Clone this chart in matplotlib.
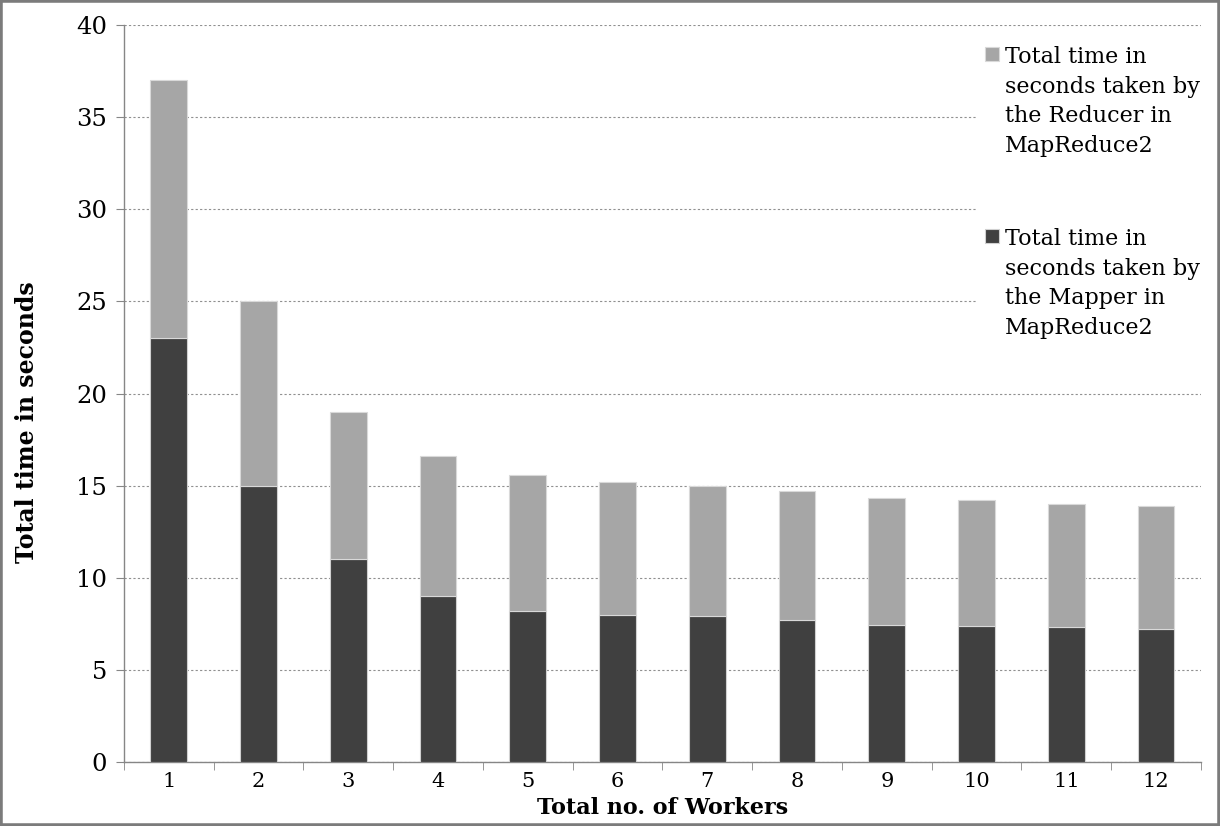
import numpy as np
import matplotlib.pyplot as plt
from matplotlib.patches import Rectangle
from matplotlib.legend_handler import HandlerPatch

plt.rcParams['font.family'] = ['DejaVu Serif']

workers = [1, 2, 3, 4, 5, 6, 7, 8, 9, 10, 11, 12]
# seconds
mapper = [23, 15, 11, 9, 8.2, 8, 7.9, 7.7, 7.45, 7.4, 7.3, 7.2]
reducer = [14, 10, 8, 7.6, 7.4, 7.2, 7.1, 7.0, 6.9, 6.8, 6.7, 6.7]

mapper_label = 'Total time in\nseconds taken by\nthe Mapper in\nMapReduce2'
reducer_label = 'Total time in\nseconds taken by\nthe Reducer in\nMapReduce2'

dark = '#404040'
light = '#a6a6a6'
axis_gray = '#868686'

fig = plt.figure(figsize=(12.2, 8.26), dpi=100)
ax = fig.add_axes([0.1016, 0.0775, 0.8828, 0.8922])

x = np.arange(len(workers)) + 1
b1 = ax.bar(x, mapper, width=0.41, color=dark, edgecolor='#d0d0d0',
            linewidth=0.8, zorder=3)
b2 = ax.bar(x, reducer, bottom=mapper, width=0.41, color=light,
            edgecolor='#d9d9d9', linewidth=0.8, zorder=3)

ax.set_xlim(0.5, 12.5)
ax.set_ylim(0, 40)
ax.set_yticks(range(0, 41, 5))
ax.yaxis.grid(True, linestyle=(0, (2, 2)), color='#909090', linewidth=0.8)
ax.set_axisbelow(True)

for s in ['top', 'right']:
    ax.spines[s].set_visible(False)
for s in ['left', 'bottom']:
    ax.spines[s].set_color(axis_gray)
    ax.spines[s].set_linewidth(1.0)

ax.set_xticks(x)
ax.set_xticklabels([str(w) for w in workers])
ax.set_xticks(np.arange(0.5, 13, 1), minor=True)
ax.tick_params(axis='x', which='major', length=0, labelsize=15, pad=7.5)
ax.tick_params(axis='x', which='minor', length=6, color=axis_gray)
ax.tick_params(axis='y', length=6, color=axis_gray, labelsize=17.5, pad=6)

ax.set_ylabel('Total time in seconds', fontsize=17, fontweight='bold')
ax.yaxis.set_label_coords(-0.079, 0.461)
ax.set_xlabel('Total no. of Workers', fontsize=16, fontweight='bold')
ax.xaxis.set_label_coords(0.5, -0.0475)


def square(legend, orig_handle, xdescent, ydescent, width, height, fontsize):
    s = 0.65 * fontsize
    return Rectangle((-xdescent, 2.2 * fontsize), s, s)


leg = fig.legend(handles=[b2.patches[0], b1.patches[0]],
                 labels=[reducer_label, mapper_label],
                 handler_map={Rectangle: HandlerPatch(patch_func=square)},
                 loc='upper left', bbox_to_anchor=(976 / 1220, 1 - 37 / 826),
                 fontsize=16, handlelength=0.65, handletextpad=0.25,
                 labelspacing=3.2, borderpad=0.4, borderaxespad=0,
                 frameon=True, framealpha=1, facecolor='white',
                 edgecolor='none', fancybox=False)
for t in leg.get_texts():
    t.set_linespacing(1.45)

fig.patches.append(Rectangle((0, 0), 1, 1, transform=fig.transFigure,
                             fill=False, edgecolor='#7b7b7b', linewidth=4))

fig.savefig('out.png', dpi=100)
